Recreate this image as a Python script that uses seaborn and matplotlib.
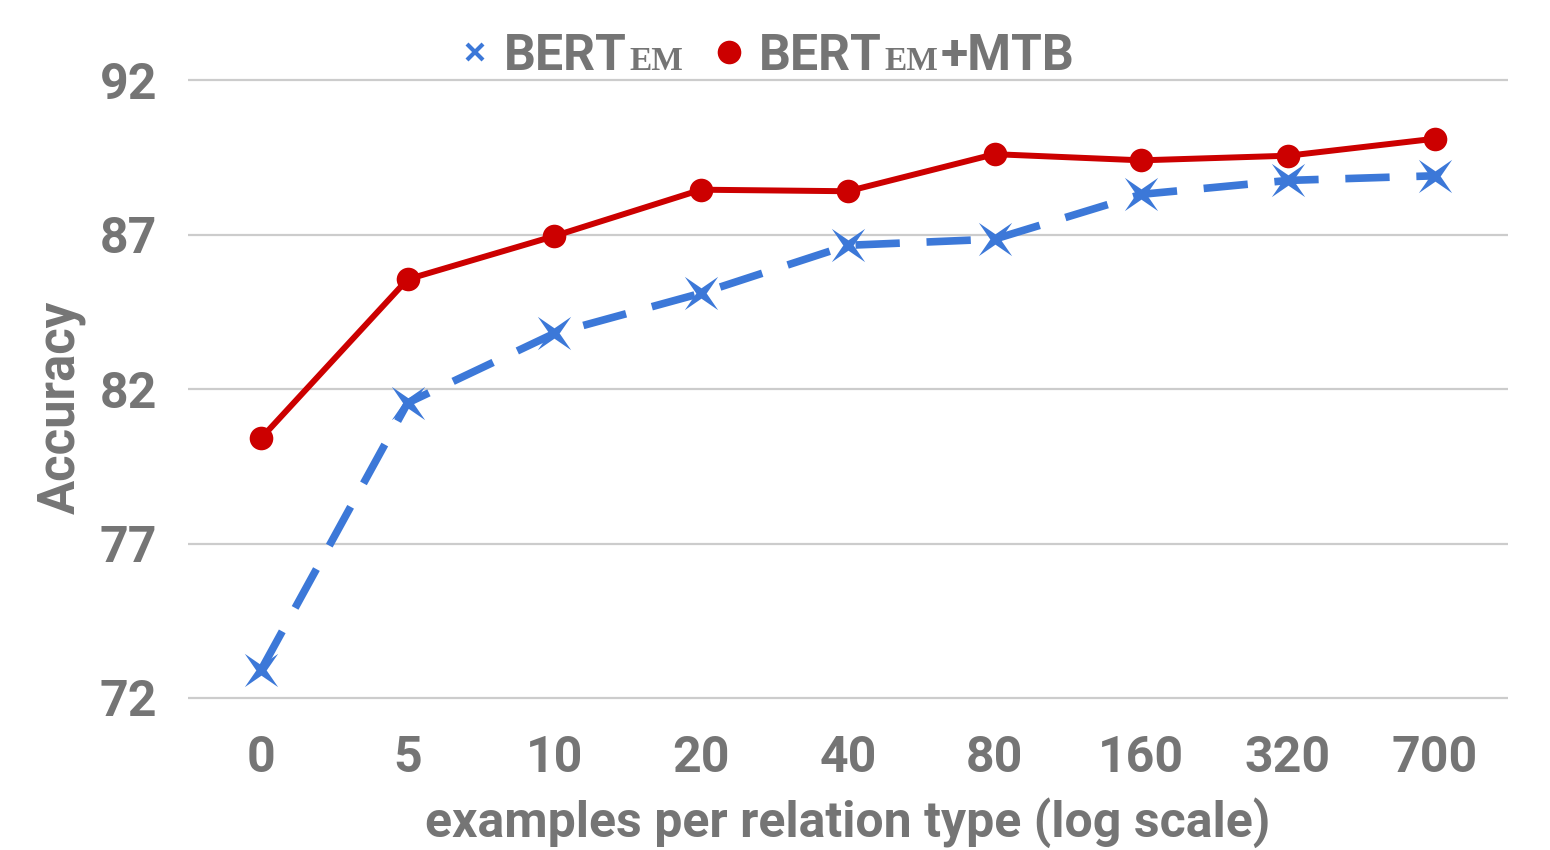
import math
import pandas as pd
import matplotlib.pyplot as plt
import seaborn as sns
from matplotlib.lines import Line2D
from matplotlib.offsetbox import AnchoredOffsetbox, DrawingArea, HPacker, TextArea

# data
examples = ["0", "5", "10", "20", "40", "80", "160", "320", "700"]
bert_em = [72.9, 81.55, 83.8, 85.1, 86.65, 86.85, 88.3, 88.75, 88.9]
bert_em_mtb = [80.4, 85.55, 86.95, 88.45, 88.4, 89.6, 89.4, 89.55, 90.1]
y_ticks = [72, 77, 82, 87, 92]

df = pd.DataFrame({"examples": examples, "bert_em": bert_em, "bert_em_mtb": bert_em_mtb})

sns.set_theme(style="whitegrid")
plt.rcParams["font.family"] = ["Roboto", "DejaVu Sans"]
plt.rcParams["font.weight"] = "bold"

GREY = "#757575"
BLUE = "#3c78d8"
RED = "#cc0000"

# thin four pointed star like the spreadsheet marker
star = []
for k in range(8):
    a = math.radians(45 + k * 45)
    r = 1.0 if k % 2 == 0 else 0.22
    star.append((r * math.cos(a), r * math.sin(a)))

fig = plt.figure(figsize=(15.5, 8.5), dpi=100)
ax = fig.add_axes([0.121, 0.1741, 0.852, 0.7365])

sns.lineplot(data=df, x="examples", y="bert_em", ax=ax, color=BLUE, lw=5.5,
             linestyle=(0, (5.8, 3.5)), marker=star, markersize=24,
             markeredgewidth=0, markerfacecolor=BLUE, zorder=3)
sns.lineplot(data=df, x="examples", y="bert_em_mtb", ax=ax, color=RED, lw=4.3,
             marker="o", markersize=17, markeredgewidth=0, zorder=4)

ax.set_xlim(-0.5, len(examples) - 0.5)
ax.set_ylim(71.87, 92.13)
ax.set_yticks(y_ticks)
ax.grid(False)
ax.yaxis.grid(True, color="#cccccc", lw=1.6)
for s in ax.spines.values():
    s.set_visible(False)
ax.tick_params(axis="both", length=0, labelsize=36, labelcolor=GREY)
ax.tick_params(axis="y", pad=22)
ax.tick_params(axis="x", pad=24)
for lab in ax.get_xticklabels() + ax.get_yticklabels():
    lab.set_fontweight("bold")

ax.set_xlabel("examples per relation type (log scale)", fontsize=36,
              fontweight="bold", color=GREY, labelpad=11)
ax.set_ylabel("Accuracy", fontsize=36.5, fontweight="bold", color=GREY, labelpad=10)
ax.yaxis.label.set_y(0.471)

# legend with the small serif "EM" subscript
big = dict(family="Roboto", weight="bold", size=36, color=GREY)
small = dict(family="Liberation Serif", weight="bold", size=24, color=GREY)


def marker_box(**kw):
    da = DrawingArea(22, 26, 0, 0)
    da.add_artist(Line2D([11], [13], linestyle="none", **kw))
    return da


item1 = HPacker(children=[marker_box(marker="x", color=BLUE, markersize=11, mew=3),
                          HPacker(children=[TextArea("BERT", textprops=big),
                                            TextArea("EM", textprops=small)],
                                  align="baseline", pad=0, sep=2)],
                align="baseline", pad=0, sep=10)
item2 = HPacker(children=[marker_box(marker="o", color=RED, markersize=17, mew=0),
                          HPacker(children=[TextArea("BERT", textprops=big),
                                            TextArea("EM", textprops=small),
                                            TextArea("+MTB", textprops=big)],
                                  align="baseline", pad=0, sep=2)],
                align="baseline", pad=0, sep=10)
legend_box = HPacker(children=[item1, item2], align="baseline", pad=0, sep=22)
anchored = AnchoredOffsetbox(loc="center", child=legend_box, pad=0, borderpad=0,
                             frameon=False, bbox_to_anchor=(0.495, 0.934),
                             bbox_transform=fig.transFigure)
ax.add_artist(anchored)

fig.savefig("out.png", dpi=100)
